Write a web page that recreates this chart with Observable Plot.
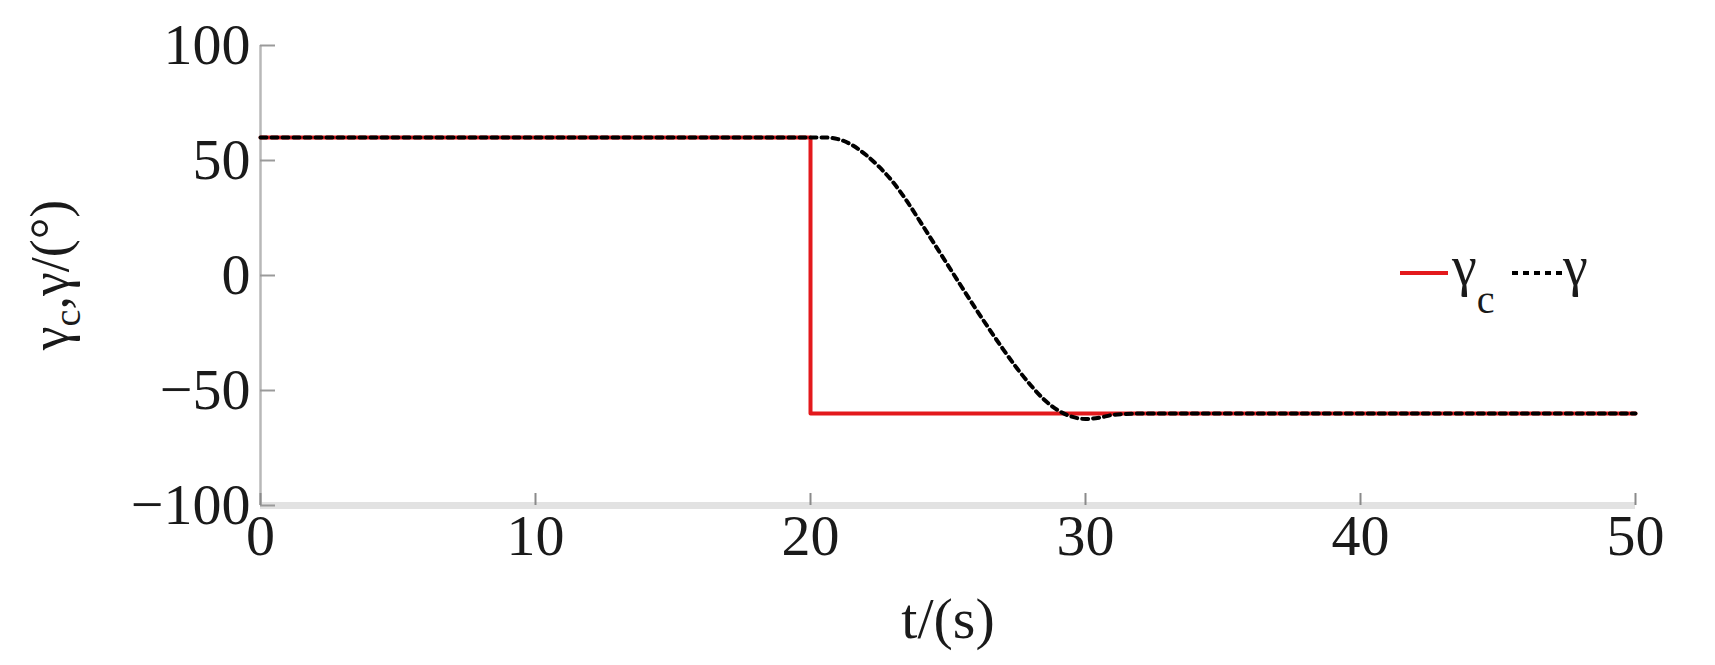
<!DOCTYPE html>
<html><head><meta charset="utf-8">
<script src="https://cdn.jsdelivr.net/npm/d3@7"></script>
<script src="https://cdn.jsdelivr.net/npm/@observablehq/plot@0.6"></script>
<style>body{margin:0;background:#fff;} #chart svg{display:block;}</style>
</head><body><div id="chart"></div>
<script>
// Commanded angle γc (step at t = 20 s)
const tCommand = [0, 20, 20, 50];
const gammaCommand = [60, 60, -60, -60];
// Actual angle γ (smooth transition)
const tActual = [0, 20.5, 21, 21.5, 22, 22.5, 23, 23.5, 24, 24.5, 25, 25.5, 26, 26.5, 27, 27.5, 28, 28.5, 29, 29.5, 30, 30.5, 31, 32, 50];
const gammaActual = [60, 60, 59.3, 56.8, 52.6, 47.2, 40.6, 32.4, 23.2, 13.8, 4.4, -5, -14.3, -23.3, -32, -40.2, -47.6, -54, -58.6, -61.4, -62.4, -61.8, -60.6, -60, -60];
const xTicks = [0, 10, 20, 30, 40, 50];
const yTicks = [-100, -50, 0, 50, 100];
const xLabel = "t/(s)";

const cmd = tCommand.map((t, i) => ({t, v: gammaCommand[i]}));
const act = tActual.map((t, i) => ({t, v: gammaActual[i]}));
const fmt = d => d < 0 ? "\u2212" + (-d) : String(d);

const W = 1715, H = 665, ML = 260, MR = 80, MT = 45, MB = 160;
const plot = Plot.plot({
  width: W, height: H,
  marginLeft: ML, marginRight: MR, marginTop: MT, marginBottom: MB,
  style: {fontFamily: "'Liberation Serif', 'Times New Roman', serif", fontSize: "58px", color: "#1a1a1a", background: "#fff"},
  x: {domain: [0, 50]},
  y: {domain: [-100, 100]},
  marks: [
    Plot.ruleY([-100], {stroke: "#e2e2e2", strokeWidth: 7}),
    Plot.ruleX([0], {stroke: "#b8b8b8", strokeWidth: 2.5}),
    Plot.axisY({ticks: yTicks, tickSize: -15, text: null, stroke: "#9a9a9a", strokeWidth: 2, label: null}),
    Plot.axisX({ticks: xTicks, tickSize: -12, text: null, stroke: "#8a8a8a", strokeWidth: 2, label: null}),
    Plot.axisY({ticks: yTicks, tickSize: 0, tickPadding: 10, tickFormat: fmt, label: null}),
    Plot.axisX({ticks: xTicks, tickSize: 0, tickPadding: 8, tickFormat: fmt, label: xLabel, labelAnchor: "center", labelArrow: "none", labelOffset: 132}),
    Plot.line(cmd, {x: "t", y: "v", stroke: "#e3191c", strokeWidth: 4}),
    Plot.line(act, {x: "t", y: "v", stroke: "#000", strokeWidth: 4, strokeDasharray: "6,5", curve: "monotone-x"})
  ]
});
document.getElementById("chart").appendChild(plot);

const svg = d3.select(plot);
const font = "'Liberation Serif', 'Times New Roman', serif";
// y axis label: γc,γ/(°)
const yl = svg.append("text")
  .attr("transform", `translate(68,${(MT + (H - MB)) / 2}) rotate(-90)`)
  .attr("text-anchor", "middle")
  .attr("font-family", font).attr("font-size", 54).attr("fill", "#1a1a1a");
yl.append("tspan").text("γ");
yl.append("tspan").attr("font-size", 38).attr("dy", 12).text("c");
yl.append("tspan").attr("dy", -12).text(",γ/(°)");

// legend
const lg = svg.append("g").attr("font-family", font).attr("fill", "#1a1a1a").attr("text-anchor", "start");
lg.append("line").attr("x1", 1400).attr("x2", 1448).attr("y1", 273).attr("y2", 273).attr("stroke", "#e3191c").attr("stroke-width", 4);
const t1 = lg.append("text").attr("x", 1452).attr("y", 285).attr("font-size", 56).attr("text-anchor", "start");
t1.append("tspan").text("γ");
t1.append("tspan").attr("font-size", 40).attr("dy", 28).text("c");
lg.append("line").attr("x1", 1512).attr("x2", 1562).attr("y1", 273).attr("y2", 273).attr("stroke", "#000").attr("stroke-width", 4).attr("stroke-dasharray", "6,5");
lg.append("text").attr("x", 1563).attr("y", 285).attr("font-size", 56).attr("text-anchor", "start").text("γ");
</script>
</body></html>
